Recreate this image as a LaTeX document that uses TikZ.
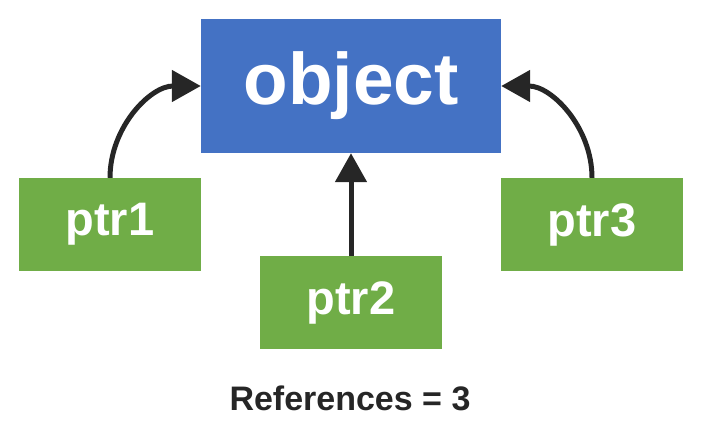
\documentclass[tikz,border=0pt]{standalone}
\usepackage{fontspec}
\setmainfont{Liberation Sans}
\usetikzlibrary{arrows.meta,positioning}
\definecolor{objblue}{HTML}{4472C4}
\definecolor{ptrgreen}{HTML}{70AD47}
\definecolor{arrowdark}{HTML}{262626}

\begin{document}
\begin{tikzpicture}[x=1pt,y=-1pt,
    objbox/.style={fill=objblue,text=white,minimum width=300pt,minimum height=134pt,inner sep=0pt,font=\fontsize{73}{80}\selectfont\bfseries},
    ptrbox/.style={fill=ptrgreen,text=white,minimum width=182pt,minimum height=93pt,inner sep=0pt,font=\fontsize{47}{52}\selectfont\bfseries},
    refarrow/.style={-{Triangle[length=29pt,width=31pt]},line width=5pt,draw=arrowdark}]
           \useasboundingbox (0,0) rectangle (701,428);
           \node [objbox] (object) at (351,86) {object};
           \node [ptrbox] (ptr1) at (110,224.5) {ptr1};
           \node [ptrbox] (ptr2) at (351,302.5) {ptr2};
           \node [ptrbox] (ptr3) at (592,224.5) {ptr3};
           \draw [refarrow] (ptr1.north) to[out=90,in=180] (object.west);
           \draw [refarrow] (ptr2.north) -- (object.south);
           \draw [refarrow] (ptr3.north) to[out=90,in=0] (object.east);
           \node [text=arrowdark,font=\fontsize{34}{40}\selectfont\bfseries] (count) at (350,398) {References = 3};
      \end{tikzpicture}
\end{document}
